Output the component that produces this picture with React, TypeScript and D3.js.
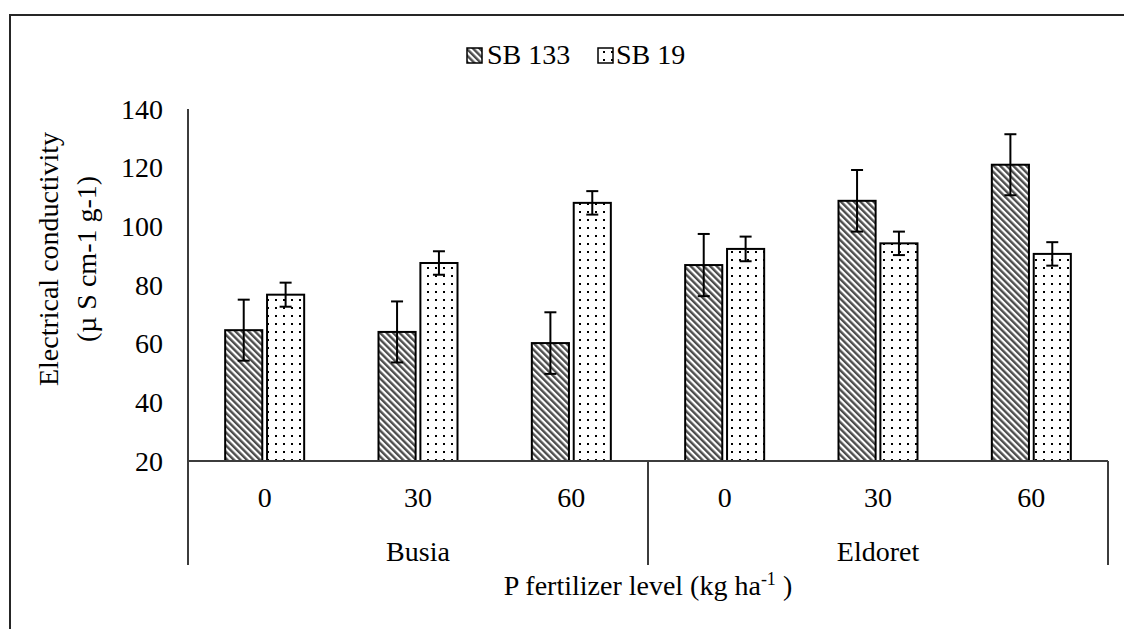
import React from "react";
import * as d3 from "d3";

const sites = ["Busia", "Eldoret"];
const levels = ["0", "30", "60"];
const seriesNames = ["SB 133", "SB 19"];
const sb133 = [64.6, 64.0, 60.2, 86.8, 108.7, 121.0];
const sb133Err = [10.4, 10.4, 10.5, 10.6, 10.5, 10.4];
const sb19 = [76.7, 87.5, 108.0, 92.3, 94.2, 90.6];
const sb19Err = [4.1, 4.0, 4.0, 4.2, 4.0, 4.0];
const yTicks = [20, 40, 60, 80, 100, 120, 140];

const W = 1124;
const H = 629;
const FONT = "Liberation Serif, Times New Roman, Tinos, DejaVu Serif, serif";
const ts = { fontFamily: FONT };

export default function App() {
  const left = 188;
  const right = 1108;
  const top = 109;
  const bottom = 461;
  const cats = d3.range(6);
  const x0 = d3.scaleBand<number>().domain(cats).range([left, right]).paddingInner(0).paddingOuter(0);
  const groupW = 79;
  const x1 = d3.scaleBand<number>().domain([0, 1]).range([0, groupW]).paddingInner(9 / 79);
  const y = d3.scaleLinear().domain([20, 140]).range([bottom, top]);
  const values = [sb133, sb19];
  const errs = [sb133Err, sb19Err];
  const fills = ["url(#hatch)", "url(#dots)"];
  const axisColor = "#3c3c3c";
  const siteW = (right - left) / sites.length;

  return (
    <svg width={W} height={H} style={{ position: "absolute", left: 0, top: 0, background: "#fff", fontFamily: FONT }}>
      <defs>
        <pattern id="hatch" patternUnits="userSpaceOnUse" width="4.6" height="4.6" patternTransform="rotate(-45)">
          <rect width="4.6" height="4.6" fill="#fff" />
          <rect x="0" y="0" width="2.4" height="4.6" fill="#4d4d4d" />
        </pattern>
        <pattern id="dots" patternUnits="userSpaceOnUse" width="8" height="8">
          <rect width="8" height="8" fill="#fff" />
          <rect x="3" y="3" width="2" height="2" fill="#000" />
        </pattern>
      </defs>
      <rect x={0} y={0} width={W} height={H} fill="#fff" />
      <rect x={10} y={15} width={1300} height={800} fill="none" stroke="#262626" strokeWidth={2} />

      {/* legend */}
      <g>
        <rect x={467} y={48} width={15} height={15} fill="url(#hatch)" stroke="#000" strokeWidth={1.5} />
        <text x={487} y={64} fontSize={28} style={ts}>{seriesNames[0]}</text>
        <rect x={598} y={48} width={15} height={15} fill="url(#dots)" stroke="#000" strokeWidth={1.5} />
        <text x={616} y={64} fontSize={28} style={ts}>{seriesNames[1]}</text>
      </g>

      {/* y tick labels */}
      {yTicks.map((t) => (
        <text key={t} x={163} y={y(t)} dy="0.35em" textAnchor="end" fontSize={28} style={ts}>{t}</text>
      ))}

      {/* y title */}
      <g transform={`translate(48,259) rotate(-90)`}>
        <text x={0} y={0} textAnchor="middle" dy="0.35em" fontSize={28} style={ts}>Electrical conductivity</text>
        <text x={0} y={38} textAnchor="middle" dy="0.35em" fontSize={28} style={ts}>(µ S cm-1 g-1)</text>
      </g>

      {/* bars */}
      {cats.map((c) => {
        const cx = (x0(c) as number) + x0.bandwidth() / 2 - groupW / 2;
        return (
          <g key={c}>
            {[0, 1].map((s) => {
              const v = values[s][c];
              const e = errs[s][c];
              const bx = cx + (x1(s) as number);
              const bw = x1.bandwidth();
              const mid = bx + bw / 2;
              return (
                <g key={s}>
                  <rect x={bx} y={y(v)} width={bw} height={bottom - y(v)} fill={fills[s]} stroke="#000" strokeWidth={2} />
                  <line x1={mid} x2={mid} y1={y(v + e)} y2={y(v - e)} stroke="#000" strokeWidth={2} />
                  <line x1={mid - 6} x2={mid + 6} y1={y(v + e)} y2={y(v + e)} stroke="#000" strokeWidth={2} />
                  <line x1={mid - 6} x2={mid + 6} y1={y(v - e)} y2={y(v - e)} stroke="#000" strokeWidth={2} />
                </g>
              );
            })}
            <text x={(x0(c) as number) + x0.bandwidth() / 2} y={507} textAnchor="middle" fontSize={28} style={ts}>{levels[c % 3]}</text>
          </g>
        );
      })}

      {/* axes */}
      <line x1={left} x2={left} y1={top} y2={565} stroke={axisColor} strokeWidth={2} />
      <line x1={left} x2={right} y1={bottom} y2={bottom} stroke={axisColor} strokeWidth={2} />
      <line x1={left + siteW} x2={left + siteW} y1={bottom} y2={565} stroke={axisColor} strokeWidth={2} />
      <line x1={right} x2={right} y1={bottom} y2={565} stroke={axisColor} strokeWidth={2} />

      {sites.map((s, i) => (
        <text key={s} x={left + siteW * (i + 0.5)} y={561} textAnchor="middle" fontSize={28} style={ts}>{s}</text>
      ))}

      <text x={648} y={595} textAnchor="middle" fontSize={28} style={ts}>
        P fertilizer level (kg ha<tspan fontSize={18} dy={-10}>-1</tspan><tspan dy={10}> )</tspan>
      </text>
    </svg>
  );
}
